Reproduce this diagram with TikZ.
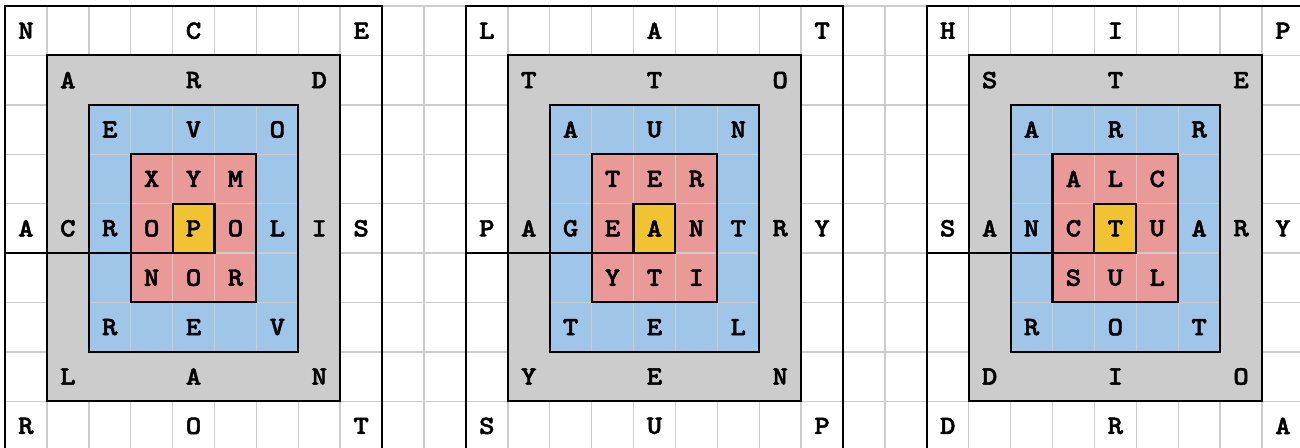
\documentclass[tikz,border=0pt]{standalone}
\usepackage{fontspec}
\newfontfamily\letrafont[FakeBold=1.8, FakeStretch=1.12]{lmmonolt10-bold.otf}
\definecolor{cGris}{HTML}{CCCCCC}
\definecolor{cAzul}{HTML}{9FC5E8}
\definecolor{cRosa}{HTML}{EA9999}
\definecolor{cOro}{HTML}{F1C232}
\definecolor{cRejilla}{HTML}{CCCCCC}
\tikzset{
    x=0.838cm, y=-0.988cm,
    rejilla/.style={draw=cRejilla, line width=0.8pt},
    muro/.style={draw=black, line width=1.2pt},
    letra/.style={font=\letrafont\fontsize{15pt}{15pt}\selectfont,
                  inner sep=0pt},
}
% anillos de color de una espiral (9 x 9 casillas)
\newcommand{\anillos}{%
    \fill[cGris] (1,1) rectangle (8,8);
    \fill[cAzul] (2,2) rectangle (7,7);
    \fill[cRosa] (3,3) rectangle (6,6);
    \fill[cOro]  (4,4) rectangle (5,5);
}
% muros de la espiral
\newcommand{\muros}{%
    \foreach \k in {0,...,4}
        \draw[muro] (\k,\k) rectangle (9-\k,9-\k);
    \draw[muro] (0,5) -- (4,5);
}
% una fila de letras: #1 espiral, #2 fila, #3 columna/letra
\newcommand{\fila}[3]{%
    \foreach \c/\l in {#3}
        \node[letra] (#1-#2-\c) at (\c+0.5,#2+0.5) {\l};
}

\begin{document}
\begin{tikzpicture}
    \useasboundingbox (-0.1193,-0.1215) rectangle (30.907,8.947);

    \foreach \dx in {0,11,22} {
        \begin{scope}[shift={(\dx,0)}] \anillos \end{scope}
    }
    \foreach \c in {0,...,31} \draw[rejilla] (\c,0) -- (\c,9);
    \foreach \r in {0,...,9} \draw[rejilla] (0,\r) -- (31,\r);
    \foreach \dx in {0,11,22} {
        \begin{scope}[shift={(\dx,0)}] \muros \end{scope}
    }

    % ACROPOLIS
    \fila{a}{0}{0/N,4/C,8/E}
    \fila{a}{1}{1/A,4/R,7/D}
    \fila{a}{2}{2/E,4/V,6/O}
    \fila{a}{3}{3/X,4/Y,5/M}
    \fila{a}{4}{0/A,1/C,2/R,3/O,4/P,5/O,6/L,7/I,8/S}
    \fila{a}{5}{3/N,4/O,5/R}
    \fila{a}{6}{2/R,4/E,6/V}
    \fila{a}{7}{1/L,4/A,7/N}
    \fila{a}{8}{0/R,4/O,8/T}

    % PAGEANTRY
    \begin{scope}[shift={(11,0)}]
        \fila{b}{0}{0/L,4/A,8/T}
        \fila{b}{1}{1/T,4/T,7/O}
        \fila{b}{2}{2/A,4/U,6/N}
        \fila{b}{3}{3/T,4/E,5/R}
        \fila{b}{4}{0/P,1/A,2/G,3/E,4/A,5/N,6/T,7/R,8/Y}
        \fila{b}{5}{3/Y,4/T,5/I}
        \fila{b}{6}{2/T,4/E,6/L}
        \fila{b}{7}{1/Y,4/E,7/N}
        \fila{b}{8}{0/S,4/U,8/P}
    \end{scope}

    % SANCTUARY
    \begin{scope}[shift={(22,0)}]
        \fila{c}{0}{0/H,4/I,8/P}
        \fila{c}{1}{1/S,4/T,7/E}
        \fila{c}{2}{2/A,4/R,6/R}
        \fila{c}{3}{3/A,4/L,5/C}
        \fila{c}{4}{0/S,1/A,2/N,3/C,4/T,5/U,6/A,7/R,8/Y}
        \fila{c}{5}{3/S,4/U,5/L}
        \fila{c}{6}{2/R,4/O,6/T}
        \fila{c}{7}{1/D,4/I,7/O}
        \fila{c}{8}{0/D,4/R,8/A}
    \end{scope}
\end{tikzpicture}
\end{document}
